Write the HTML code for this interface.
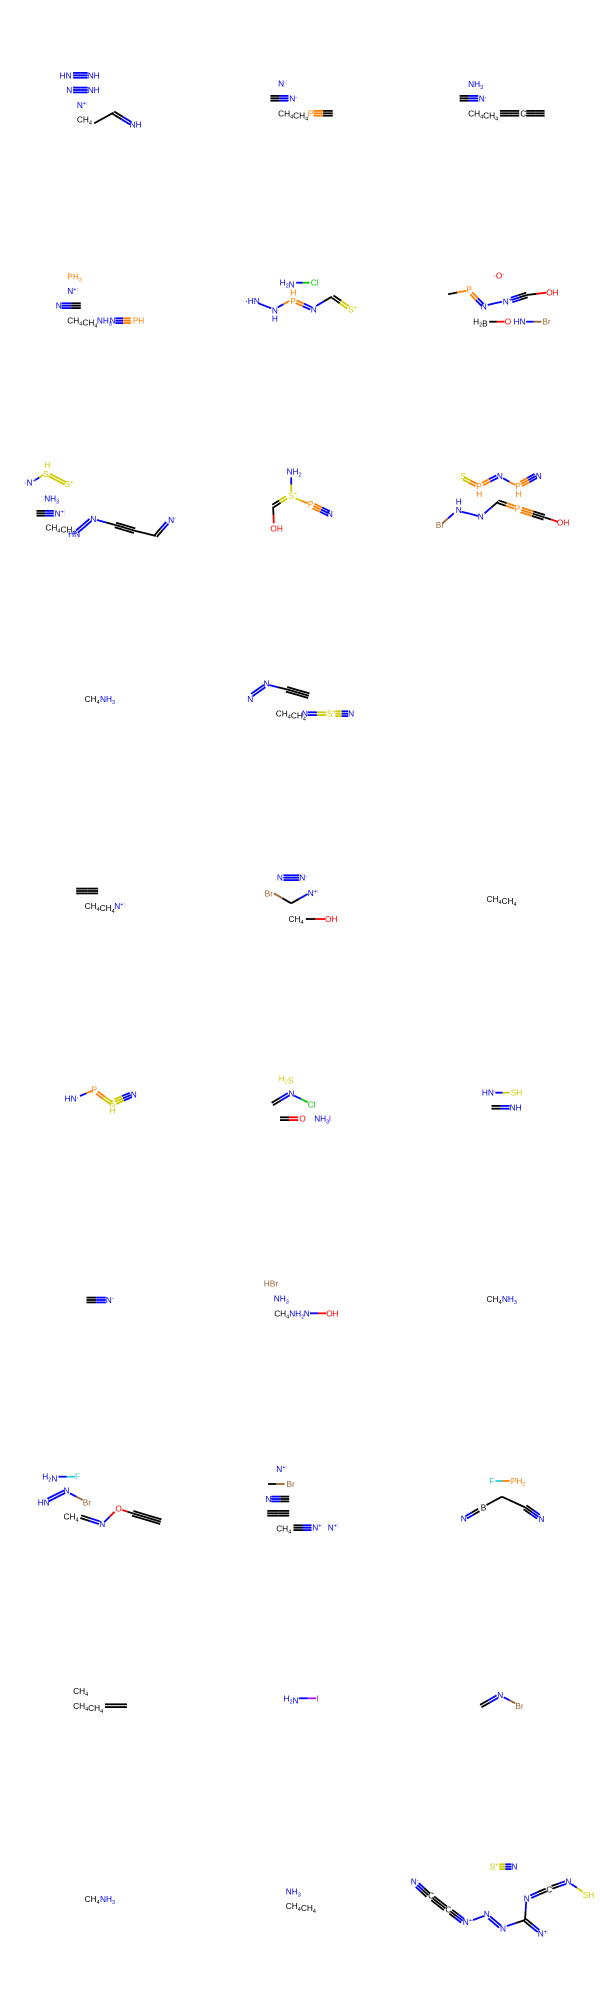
<!DOCTYPE html>
<html><head><meta charset="utf-8"><style>
html,body{margin:0;padding:0;background:#fff;width:600px;height:2000px;overflow:hidden}
svg{display:block}
text{font-family:"Liberation Sans","DejaVu Sans",sans-serif}
</style></head><body>
<svg id="grid" width="600" height="2000" viewBox="0 0 600 2000" xmlns="http://www.w3.org/2000/svg">
<rect width="600" height="2000" fill="#fff"/>
</svg>
<script>
const NS="http://www.w3.org/2000/svg";
const svg=document.getElementById('grid');
const C={k:'#000000',b:'#0000FF',r:'#FF0000',o:'#FF8000',y:'#CCCC00',g:'#00CC00',br:'#996633',c:'#33CCCC',p:'#A01EEF'};
const SX=1/2.6, SY=1/3;
let grp=null;
function G(off,name){
  grp=document.createElementNS(NS,'g');
  grp.setAttribute('transform','translate(0,'+off+')');
  
  
  svg.appendChild(grp);
}
function T(x,y,s,col){
  const t=document.createElementNS(NS,'text');
  
  
  t.setAttribute('x',(x*SX).toFixed(1));t.setAttribute('y',(y*SY+3).toFixed(1));
  t.setAttribute('font-size','8.3');t.setAttribute('fill',C[col]);
  let i=0,buf='';
  const flush=()=>{if(buf){const sp=document.createElementNS(NS,'tspan');sp.textContent=buf;t.appendChild(sp);buf='';}};
  while(i<s.length){
    const ch=s[i];
    if(ch==='_'){flush();const sp=document.createElementNS(NS,'tspan');sp.setAttribute('font-size','5.5');sp.setAttribute('dy','2');sp.textContent=s[i+1];t.appendChild(sp);const z=document.createElementNS(NS,'tspan');z.setAttribute('dy','-2');z.textContent='';t.appendChild(z);i+=2;continue;}
    if(ch==='^'){flush();const sp=document.createElementNS(NS,'tspan');sp.setAttribute('font-size','5.5');sp.setAttribute('dy','-3');sp.textContent=s.slice(i+1);t.appendChild(sp);break;}
    buf+=ch;i++;
  }
  flush();
  grp.appendChild(t);
}
function seg(x1,y1,x2,y2,col){
  const l=document.createElementNS(NS,'line');
  
  
  l.setAttribute('x1',x1.toFixed(1));l.setAttribute('y1',y1.toFixed(1));l.setAttribute('x2',x2.toFixed(1));l.setAttribute('y2',y2.toFixed(1));
  l.setAttribute('stroke',C[col]);l.setAttribute('stroke-width','1.8');
  grp.appendChild(l);
}
function L(x1,y1,x2,y2,c1,c2,n){
  x1*=SX;x2*=SX;y1*=SY;y2*=SY;
  const dx=x2-x1,dy=y2-y1,len=Math.hypot(dx,dy)||1;
  const px=-dy/len,py=dx/len;
  const offs=n===1?[0]:n===2?[-1.4,1.4]:[-2.4,0,2.4];
  const mx=(x1+x2)/2,my=(y1+y2)/2;
  offs.forEach(o=>{
    seg(x1+px*o,y1+py*o,mx+px*o,my+py*o,c1);
    seg(mx+px*o,my+py*o,x2+px*o,y2+py*o,c2);
  });
}
// Rows 1-2
G(0,'rows-1-2');
T(155,226,"HN",'b');L(190,226,228,226,'b','b',3);T(228,226,"NH",'b');
T(172,270,"N",'b');L(190,270,228,270,'b','b',3);T(228,270,"NH",'b');
T(200,315,"N^+:",'b');
T(200,358,"CH_4",'k');L(245,370,295,338,'k','k',1);L(295,338,340,370,'k','b',2);T(337,374,"NH",'b');
T(723,250,"N^·:",'b');L(703,295,750,295,'k','b',3);T(752,295,"N^-",'b');
T(723,340,"CH_4CH_4",'k');T(800,340,"P",'o');L(815,340,865,340,'o','k',3);
T(1217,252,"NH_3",'b');L(1195,295,1243,295,'k','b',3);T(1245,295,"N^-",'b');
T(1217,340,"CH_4CH_4",'k');L(1300,340,1350,340,'k','k',3);T(1353,340,"C",'k');L(1368,340,1416,340,'k','k',3);
T(175,830,"PH_3",'o');T(175,873,"N^+:",'b');T(145,917,"N",'b');L(160,917,210,917,'b','k',3);
T(175,962,"CH_4CH_4",'k');T(252,962,"NH_3",'b');T(285,962,"N",'b');L(300,962,340,962,'b','o',3);T(345,962,"PH",'o');
T(727,848,"H_2N",'b');L(770,848,805,848,'b','g',1);T(808,848,"Cl",'g');
T(637,903,"·HN",'b');L(672,910,705,925,'b','b',1);T(707,932,"N",'b');T(707,955,"H",'b');
L(722,922,752,903,'b','o',1);T(755,903,"P",'o');T(755,877,"H",'o');L(770,905,808,925,'o','b',2);T(808,928,"N",'b');
L(822,918,863,890,'b','k',1);L(865,890,905,922,'k','y',2);T(905,928,"S^+·",'y');
T(1282,826,"·O^-",'r');L(1165,883,1212,872,'k','o',1);T(1212,868,"P",'o');L(1225,880,1255,915,'o','b',2);T(1250,920,"N",'b');
L(1268,915,1305,905,'b','b',1);T(1307,905,"N^+",'b');L(1330,900,1370,885,'b','k',3);L(1370,885,1420,878,'k','r',1);T(1420,878,"OH",'r');
T(1230,965,"H_2B",'k');L(1272,965,1312,965,'k','r',1);T(1312,965,"O^·",'r');T(1335,965,"HN",'b');L(1368,965,1408,965,'b','br',1);T(1410,965,"Br",'br');
// Row 3
G(400,'row-3');
T(115,195,"H",'y');T(112,222,"S",'y');T(62,248,"·N^+",'b');L(92,240,112,225,'b','y',1);L(128,225,170,250,'y','y',2);T(168,252,"S^+·",'y');
T(115,295,"NH_3",'b');L(95,340,140,340,'k','b',3);T(142,340,"N^+:",'b');T(118,383,"CH_4CH_4",'k');T(177,402,"HN",'b');
L(200,395,235,360,'b','b',2);T(235,357,"N",'b');L(252,360,300,375,'b','k',1);L(300,375,350,392,'k','k',3);L(350,392,405,408,'k','k',1);L(405,408,435,368,'k','b',2);T(437,360,"N^-",'b');
T(745,215,"NH_2",'b');L(757,232,757,275,'b','y',1);T(750,287,"S^+",'y');L(745,292,710,318,'y','k',2);L(710,320,712,370,'k','r',1);T(703,385,"OH",'r');
L(768,295,800,310,'y','o',1);T(800,312,"P",'o');L(815,318,855,340,'o','b',3);T(850,342,"N",'b');
T(1190,228,"·S",'y');L(1205,235,1238,255,'y','o',2);T(1238,258,"P",'o');T(1238,282,"H",'o');L(1255,252,1292,230,'o','b',2);T(1292,228,"N",'b');
L(1308,235,1340,255,'b','o',1);T(1340,258,"P",'o');T(1340,282,"H",'o');L(1355,252,1393,228,'o','b',3);T(1393,228,"N",'b');
T(1185,305,"H",'b');T(1185,330,"N",'b');L(1180,340,1150,370,'b','br',1);T(1133,375,"Br",'br');L(1200,335,1243,348,'b','b',1);T(1242,350,"N^·",'b');
L(1260,340,1295,305,'b','k',1);L(1295,305,1338,322,'k','o',2);T(1338,325,"P",'o');L(1355,330,1415,352,'o','k',3);L(1415,352,1450,365,'k','r',1);T(1448,368,"OH",'r');
// Rows 4-5
G(600,'rows-4-5');
T(220,297,"CH_4",'k');T(260,297,"NH_3",'b');
T(643,297,"N",'b');L(655,285,688,258,'b','b',2);T(685,250,"N",'b');L(700,255,745,268,'b','k',1);L(745,268,803,287,'k','k',3);
T(717,341,"CH_4CH_4",'k');T(785,341,"N",'b');L(800,341,848,341,'b','y',2);T(850,341,"S^+",'y');L(872,341,905,341,'y','b',3);T(905,341,"N",'b');
L(198,873,255,873,'k','k',3);T(220,918,"CH_4CH_4",'k');T(297,918,"N^+:",'b');
T(720,833,"N",'b');L(737,833,778,833,'b','b',3);T(778,833,"N^-",'b');T(688,880,"Br",'br');L(712,880,757,910,'br','k',1);L(757,910,800,882,'k','b',1);T(800,879,"N^+:",'b');
T(750,957,"CH_4",'k');L(795,957,845,957,'k','r',1);T(845,957,"OH",'r');
T(1265,897,"CH_4CH_4",'k');
// Rows 6-7
G(1000,'rows-6-7');
T(168,296,"HN^-",'b');L(208,288,240,272,'b','o',1);T(238,268,"P",'o');L(252,278,290,310,'o','y',2);T(285,310,"S",'y');T(285,332,"H",'y');L(300,305,340,285,'y','b',3);T(340,283,"N",'b');
T(725,236,"H_2S",'y');L(708,312,750,283,'k','b',2);T(750,280,"N",'b');L(765,287,800,307,'b','g',1);T(800,313,"Cl",'g');
L(728,356,775,356,'k','r',2);T(778,356,"O",'r');T(817,356,"NH_3",'b');T(855,356,"I",'p');
T(1253,278,"HN^-",'b');L(1288,278,1325,278,'b','y',1);T(1328,278,"SH",'y');L(1278,322,1325,322,'k','b',2);T(1325,322,"NH",'b');
L(225,900,275,900,'k','b',3);T(275,900,"N^-",'b');
T(686,851,"HBr",'br');T(712,896,"NH_3",'b');T(713,940,"CH_4",'k');T(752,940,"NH_2",'b');T(790,940,"N",'b');L(806,940,848,940,'b','r',1);T(848,940,"OH",'r');
T(1265,897,"CH_4",'k');T(1305,897,"NH_3",'b');
// Row 8
G(1400,'row-8');
T(110,230,"H_2N",'b');L(152,230,195,230,'b','c',1);T(195,230,"F",'c');
T(98,307,"HN",'b');L(125,300,168,275,'b','b',2);T(165,272,"N",'b');L(182,280,215,300,'b','br',1);T(215,308,"Br",'br');
T(165,350,"CH_4",'k');L(210,350,258,368,'k','b',2);T(258,372,"N",'b');L(272,365,298,335,'b','r',1);T(300,325,"O",'r');L(318,330,345,340,'r','k',1);L(345,340,418,365,'k','k',3);
T(718,207,"N^+:",'b');L(697,252,740,252,'k','br',1);T(745,252,"Br",'br');T(690,297,"N",'b');L(705,297,752,297,'b','k',3);L(695,340,752,340,'k','k',3);
T(718,385,"CH_4",'k');L(763,383,810,383,'k','b',3);T(812,383,"N^+",'b');T(852,383,"N^+:",'b');
T(1272,243,"F",'c');L(1288,243,1325,243,'c','o',1);T(1328,243,"PH_2",'o');
L(1305,290,1265,315,'k','k',1);T(1250,322,"B",'k');L(1245,330,1212,352,'k','b',2);T(1198,355,"N^-",'b');L(1305,290,1365,322,'k','k',1);L(1365,322,1400,350,'k','b',3);T(1400,357,"N",'b');
// Rows 9-10
G(1600,'rows-9-10');
T(190,273,"CH_4",'k');T(190,318,"CH_4CH_4",'k');L(273,317,330,317,'k','k',2);
T(737,295,"H_2N",'b');L(777,295,822,295,'b','p',1);T(822,295,"I",'p');
L(1250,318,1293,290,'k','b',2);T(1293,285,"N",'b');L(1310,292,1340,310,'b','br',1);T(1340,318,"Br",'br');
T(220,897,"CH_4",'k');T(260,897,"NH_3",'b');
T(743,875,"NH_3",'b');T(743,918,"CH_4CH_4",'k');
T(1273,800,"S^+",'y');L(1298,800,1330,800,'y','b',3);T(1330,800,"N",'b');
T(1068,845,"N^-",'b');L(1085,855,1113,885,'b','k',3);T(1113,887,"C",'k');L(1125,895,1158,925,'k','k',3);T(1158,928,"C",'k');
L(1172,935,1203,962,'k','b',3);T(1203,966,"N^+·",'b');L(1230,960,1258,948,'b','b',1);T(1258,942,"N",'b');L(1272,952,1300,980,'b','b',2);T(1300,985,"N",'b');
L(1318,978,1365,960,'b','k',1);L(1365,960,1368,905,'k','b',1);T(1362,895,"N",'b');L(1380,890,1420,870,'b','k',2);T(1420,868,"C",'k');
L(1435,862,1470,848,'k','b',2);T(1470,845,"N",'b');L(1485,852,1515,875,'b','y',1);T(1515,885,"SH",'y');L(1365,960,1400,993,'k','b',2);T(1398,1000,"N^+:",'b');
</script>
</body></html>
